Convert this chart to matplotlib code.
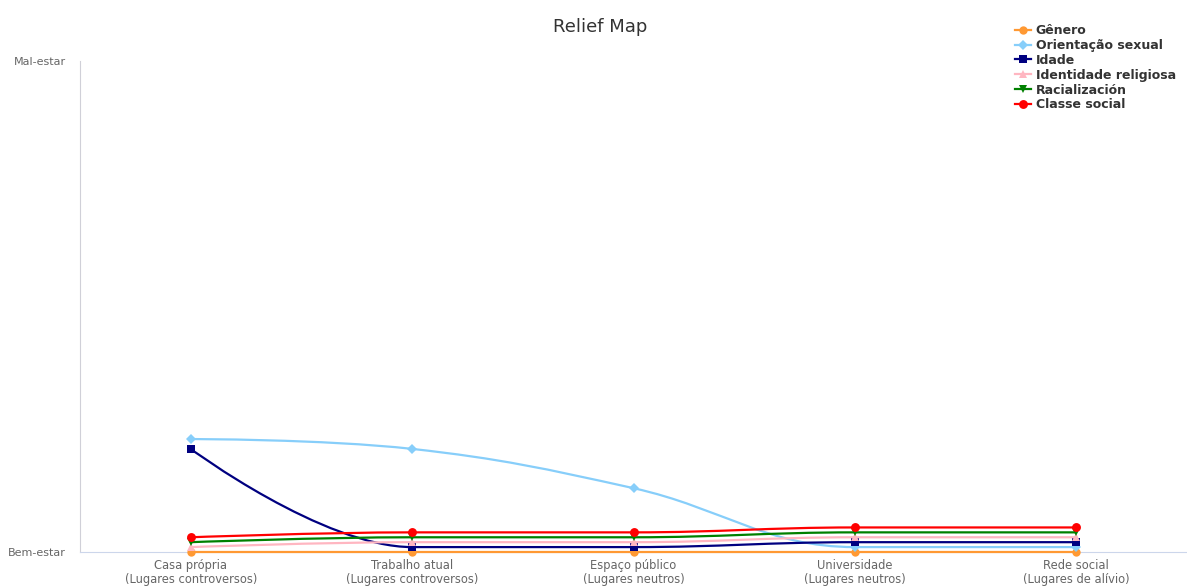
import matplotlib
matplotlib.use("Agg")
import matplotlib.pyplot as plt
from matplotlib.path import Path
from matplotlib.patches import PathPatch
from matplotlib.lines import Line2D

CATEGORIES = [
    "Casa própria\n(Lugares controversos)",
    "Trabalho atual\n(Lugares controversos)",
    "Espaço público\n(Lugares neutros)",
    "Universidade\n(Lugares neutros)",
    "Rede social\n(Lugares de alívio)",
]

GENERO = [0, 0, 0, 0, 0]
ORIENTACAO = [23, 21, 13, 1, 1]
IDADE = [21, 1, 1, 2, 2]
RELIGIOSA = [1, 2, 2, 3, 3]
RACIALIZACAO = [2, 3, 3, 4, 4]
CLASSE = [3, 4, 4, 5, 5]

SERIES = [
    ("Gênero", GENERO, "#FF9933", "o", 6.0),
    ("Orientação sexual", ORIENTACAO, "#87CEFA", "D", 4.6),
    ("Idade", IDADE, "#000080", "s", 6.0),
    ("Identidade religiosa", RELIGIOSA, "#FFB6C1", "^", 6.2),
    ("Racialización", RACIALIZACAO, "#008000", "v", 6.2),
    ("Classe social", CLASSE, "#FF0000", "o", 6.4),
]

TEXT_GREY = "#666666"


def spline_path(xs, ys, smoothing=1.5):
    # cubic bezier spline, control points placed the way highcharts does it
    n = len(xs)
    left = [None] * n
    right = [None] * n
    d = smoothing + 1
    for i in range(1, n - 1):
        x, y = xs[i], ys[i]
        lx, ly = xs[i - 1], ys[i - 1]
        nx, ny = xs[i + 1], ys[i + 1]
        lcx = (smoothing * x + lx) / d
        lcy = (smoothing * y + ly) / d
        rcx = (smoothing * x + nx) / d
        rcy = (smoothing * y + ny) / d
        if rcx != lcx:
            corr = (rcy - lcy) * (rcx - x) / (rcx - lcx) + y - rcy
            lcy += corr
            rcy += corr
        if lcy > ly and lcy > y:
            lcy = max(ly, y)
            rcy = 2 * y - lcy
        elif lcy < ly and lcy < y:
            lcy = min(ly, y)
            rcy = 2 * y - lcy
        if rcy > ny and rcy > y:
            rcy = max(ny, y)
            lcy = 2 * y - rcy
        elif rcy < ny and rcy < y:
            rcy = min(ny, y)
            lcy = 2 * y - rcy
        left[i] = (lcx, lcy)
        right[i] = (rcx, rcy)

    verts = [(xs[0], ys[0])]
    codes = [Path.MOVETO]
    for i in range(1, n):
        c1 = right[i - 1] or (xs[i - 1], ys[i - 1])
        c2 = left[i] or (xs[i], ys[i])
        verts += [c1, c2, (xs[i], ys[i])]
        codes += [Path.CURVE4] * 3
    return Path(verts, codes)


plt.rcParams["font.family"] = ["DejaVu Sans"]

fig = plt.figure(figsize=(11.87, 5.87), dpi=100)
W, H = 1187, 587
ax = fig.add_axes([80 / W, (H - 552) / H, (W - 80) / W, (552 - 61) / H])

xs = list(range(len(CATEGORIES)))
handles = []
for i, (name, vals, color, marker, ms) in enumerate(SERIES):
    patch = PathPatch(spline_path(xs, vals), facecolor="none", edgecolor=color,
                      lw=1.6, clip_on=False, zorder=3 + 2 * i, capstyle="round")
    ax.add_patch(patch)
    ax.plot(xs, vals, linestyle="none", marker=marker, ms=ms, color=color,
            markeredgewidth=0, clip_on=False, zorder=4 + 2 * i)
    handles.append(Line2D([], [], color=color, lw=1.6, marker=marker, ms=ms,
                          markeredgewidth=0, label=name))

ax.set_xlim(-0.5, 4.5)
ax.set_ylim(0, 100)
ax.set_xticks(xs)
ax.set_xticklabels(CATEGORIES, fontsize=8.3, color=TEXT_GREY, linespacing=1.15)
ax.set_yticks([0, 100])
ax.set_yticklabels(["Bem-estar", "Mal-estar"], fontsize=8, color=TEXT_GREY)
ax.tick_params(axis="x", length=0, pad=5)
ax.tick_params(axis="y", length=0, pad=10)

for side in ("top", "right"):
    ax.spines[side].set_visible(False)
ax.spines["left"].set_color("#d0d0d8")
ax.spines["left"].set_linewidth(0.8)
ax.spines["bottom"].set_color("#ccd6eb")
ax.spines["bottom"].set_linewidth(0.8)

fig.text(600 / W, 1 - 27 / H, "Relief Map", fontsize=13, color="#333333",
         ha="center", va="center")

fig.legend(handles=handles, loc="upper left",
           bbox_to_anchor=(1015 / W, 1 - 24 / H), bbox_transform=fig.transFigure,
           frameon=False, borderpad=0, borderaxespad=0, handlelength=1.3,
           handletextpad=0.35, labelspacing=0.15,
           prop={"size": 9, "weight": "bold"}, labelcolor="#333333")

plt.savefig("out.png", dpi=100)
